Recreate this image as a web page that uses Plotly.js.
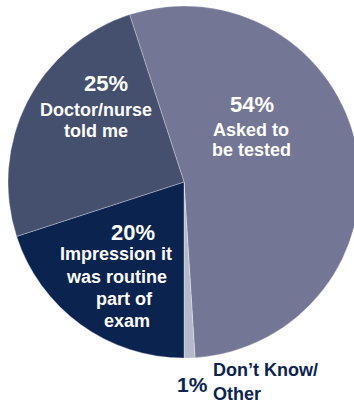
<!DOCTYPE html>
<html>
<head>
<meta charset="utf-8">
<script src="https://cdn.plot.ly/plotly-3.0.1.min.js"></script>
<style>
html,body{margin:0;padding:0;overflow:hidden;background:#fff;width:354px;height:405px;}
#chart{width:368px;height:405px;}
</style>
</head>
<body>
<div id="chart"></div>
<script>
// Data (clockwise order starting just left of 12 o'clock)
var categories = ["Asked to be tested", "Don\u2019t Know/ Other", "Impression it was routine part of exam", "Doctor/nurse told me"];
var values = [54, 1, 20, 25];
var percentLabels = ["54%", "1%", "20%", "25%"];
var descLines = [
  ["Asked to", "be tested"],
  ["Don\u2019t Know/", "Other"],
  ["Impression it", "was routine", "part of", "exam"],
  ["Doctor/nurse", "told me"]
];
var colors = ["#737694", "#b6b9cb", "#0b234f", "#45506f"];

var W = 368, H = 405;
function px(x){ return x / W; }
function py(y){ return 1 - y / H; }

var font = "Liberation Sans, Arial, sans-serif";
var annotations = [];
function addText(text, x, y, size, color, xanchor){
  annotations.push({
    text: text, xref: "paper", yref: "paper",
    x: px(x), y: py(y), xanchor: xanchor || "center", yanchor: "middle",
    showarrow: false,
    font: {family: font, size: size, color: color, weight: 700}
  });
}

// 54% slice
addText(percentLabels[0], 252, 104, 22, "#ffffff");
addText(descLines[0][0], 251, 130, 18, "#ffffff");
addText(descLines[0][1], 251, 150, 18, "#ffffff");
// 25% slice
addText(percentLabels[3], 106, 83, 22, "#ffffff");
addText(descLines[3][0], 96, 110, 18, "#ffffff");
addText(descLines[3][1], 96, 131, 18, "#ffffff");
// 20% slice
addText(percentLabels[2], 133, 232, 22, "#ffffff");
addText(descLines[2][0], 116, 254, 18, "#ffffff");
addText(descLines[2][1], 116, 277, 18, "#ffffff");
addText(descLines[2][2], 124, 299, 18, "#ffffff");
addText(descLines[2][3], 127, 321, 18, "#ffffff");
// 1% slice (outside)
addText(percentLabels[1], 175, 384, 21, "#0b2350", "left");
addText(descLines[1][0], 211, 370, 18, "#0b2350", "left");
addText(descLines[1][1], 211, 394, 18, "#0b2350", "left");

var trace = {
  type: "pie",
  labels: categories,
  values: values,
  sort: false,
  direction: "clockwise",
  rotation: -18,
  textinfo: "none",
  hoverinfo: "none",
  marker: {colors: colors, line: {color: "rgba(255,255,255,0.5)", width: 0.6}},
  domain: {x: [0, 1], y: [py(358), py(6)]}
};

var layout = {
  width: W, height: H,
  margin: {l: 0, r: 0, t: 0, b: 0},
  showlegend: false,
  paper_bgcolor: "#ffffff",
  annotations: annotations
};

Plotly.newPlot("chart", [trace], layout, {displayModeBar: false, staticPlot: true});
</script>
</body>
</html>
